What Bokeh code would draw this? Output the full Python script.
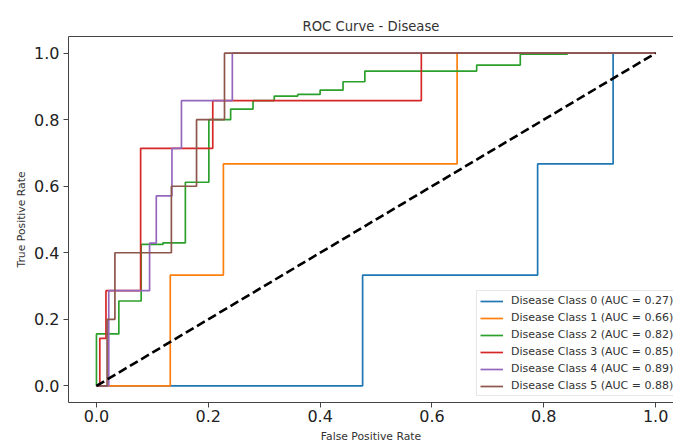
from bokeh.plotting import figure
from bokeh.models import LinearAxis, FixedTicker, Range1d, Legend, LegendItem, Title
from bokeh.embed import file_html
from bokeh.resources import INLINE

# ---- data ----
class_names = ["Disease Class 0", "Disease Class 1", "Disease Class 2",
               "Disease Class 3", "Disease Class 4", "Disease Class 5"]
auc_values = [0.27, 0.66, 0.82, 0.85, 0.89, 0.88]
colors = ["#1f77b4", "#ff7f0e", "#2ca02c", "#d62728", "#9467bd", "#8c564b"]

fpr0 = [0, 0.476, 0.476, 0.789, 0.789, 0.924, 0.924, 1.0]
tpr0 = [0, 0, 0.333, 0.333, 0.667, 0.667, 1.0, 1.0]

fpr1 = [0, 0.132, 0.132, 0.227, 0.227, 0.645, 0.645, 1.0]
tpr1 = [0, 0, 0.333, 0.333, 0.667, 0.667, 1.0, 1.0]

fpr2 = [0, 0, 0.04, 0.04, 0.08, 0.08, 0.119, 0.119, 0.159, 0.159, 0.201, 0.201,
        0.24, 0.24, 0.28, 0.28, 0.318, 0.318, 0.36, 0.36, 0.40, 0.40, 0.441, 0.441,
        0.48, 0.48, 0.68, 0.68, 0.758, 0.758, 0.842, 0.842, 1.0]
tpr2 = [0, 0.156, 0.156, 0.255, 0.255, 0.425, 0.425, 0.43, 0.43, 0.612, 0.612, 0.80,
        0.80, 0.832, 0.832, 0.857, 0.857, 0.871, 0.871, 0.876, 0.876, 0.889, 0.889, 0.914,
        0.914, 0.946, 0.946, 0.964, 0.964, 0.997, 0.997, 1.0, 1.0]

fpr3 = [0, 0.006, 0.006, 0.017, 0.017, 0.079, 0.079, 0.208, 0.208, 0.581, 0.581, 1.0]
tpr3 = [0, 0, 0.143, 0.143, 0.286, 0.286, 0.714, 0.714, 0.857, 0.857, 1.0, 1.0]

fpr4 = [0, 0.022, 0.022, 0.095, 0.095, 0.107, 0.107, 0.135, 0.135, 0.152, 0.152,
        0.243, 0.243, 1.0]
tpr4 = [0, 0, 0.286, 0.286, 0.429, 0.429, 0.571, 0.571, 0.714, 0.714, 0.857,
        0.857, 1.0, 1.0]

fpr5 = [0, 0.019, 0.019, 0.033, 0.033, 0.134, 0.134, 0.179, 0.179, 0.229, 0.229, 1.0]
tpr5 = [0, 0, 0.2, 0.2, 0.4, 0.4, 0.6, 0.6, 0.8, 0.8, 1.0, 1.0]

chance_x = [0, 1]
chance_y = [0, 1]

tick_values = [0.0, 0.2, 0.4, 0.6, 0.8, 1.0]
tick_labels = ["0.0", "0.2", "0.4", "0.6", "0.8", "1.0"]

fprs = [fpr0, fpr1, fpr2, fpr3, fpr4, fpr5]
tprs = [tpr0, tpr1, tpr2, tpr3, tpr4, tpr5]

FONT = "DejaVu Sans"

p = figure(width=673, height=445, output_backend="svg", toolbar_location=None,
           x_range=Range1d(-0.05, 1.032), y_range=Range1d(-0.05, 1.05),
           min_border_left=68, min_border_right=0, min_border_top=36,
           min_border_bottom=41, x_axis_label="False Positive Rate",
           y_axis_label="True Positive Rate")
p.background_fill_color = "white"
p.border_fill_color = "white"
p.outline_line_color = None
p.grid.visible = False

p.title = Title(text="ROC Curve - Disease", align="center", text_font=FONT,
                text_font_size="13.2px", text_font_style="normal",
                text_color="#333333", standoff=5)

for ax in (p.xaxis[0], p.yaxis[0]):
    ax.ticker = FixedTicker(ticks=tick_values)
    ax.major_label_overrides = {v: s for v, s in zip(tick_values, tick_labels)}
    ax.minor_tick_line_color = None
    ax.major_tick_in = 0
    ax.major_tick_out = 5
    ax.major_tick_line_color = "#444444"
    ax.axis_line_color = "#444444"
    ax.major_label_text_font = FONT
    ax.major_label_text_font_size = "16px"
    ax.major_label_text_color = "#222222"
    ax.axis_label_text_font = FONT
    ax.axis_label_text_font_size = "10.8px"
    ax.axis_label_text_font_style = "normal"
    ax.axis_label_text_color = "#333333"

p.xaxis[0].major_label_standoff = 2
p.xaxis[0].axis_label_standoff = 5
p.yaxis[0].major_label_standoff = 4
p.yaxis[0].axis_label_standoff = 3

top = LinearAxis(ticker=FixedTicker(ticks=[]), major_label_text_font_size="0px",
                 major_tick_out=0, major_tick_in=0, minor_tick_out=0, minor_tick_in=0,
                 major_label_standoff=0, axis_line_color="#444444")
p.add_layout(top, "above")

items = []
for i in range(6):
    r = p.line(fprs[i], tprs[i], line_color=colors[i], line_width=1.7)
    items.append(LegendItem(label=f"{class_names[i]} (AUC = {auc_values[i]:.2f})",
                            renderers=[r]))

p.line(chance_x, chance_y, line_color="black", line_width=2.6, line_dash="9 4")

legend = Legend(items=items, location=(408, 6), padding=3, spacing=4,
                glyph_width=23, glyph_height=12, label_height=12, label_standoff=8,
                label_text_font=FONT, label_text_font_size="11px",
                label_text_color="#333333", border_line_color="#d0d0d0",
                border_line_width=1, background_fill_color="white",
                background_fill_alpha=0.85, margin=0)
p.add_layout(legend, "center")

open("out.html", "w").write(file_html(p, INLINE))
